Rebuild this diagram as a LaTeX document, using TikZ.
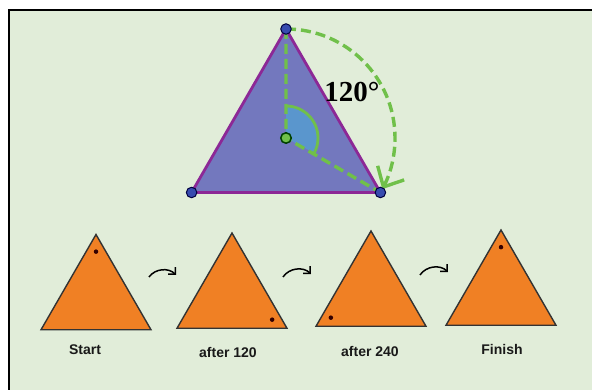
\documentclass[tikz,border=0pt]{standalone}
\usepackage{fontspec}
\setmainfont{Liberation Sans}
\newfontfamily\degfont{Liberation Serif}
\usetikzlibrary{shapes.geometric,arrows.meta,calc}
\definecolor{bgGreen}{RGB}{225,237,217}
\definecolor{triBlue}{RGB}{115,120,190}
\definecolor{edgePurple}{RGB}{140,40,150}
\definecolor{dashGreen}{RGB}{112,192,74}
\definecolor{dotBlue}{RGB}{55,75,175}
\definecolor{wedgeBlue}{RGB}{90,150,205}
\definecolor{tileOrange}{RGB}{240,128,36}
\begin{document}
\begin{tikzpicture}[x=1pt,y=-1pt,
tile/.style={regular polygon,regular polygon sides=3,minimum size=127pt,inner sep=0pt,outer sep=0pt,fill=tileOrange,draw=black!80,line width=1.4pt},
bigtri/.style={regular polygon,regular polygon sides=3,minimum size=218pt,inner sep=0pt,outer sep=0pt,fill=triBlue,draw=edgePurple,line width=2.8pt},
vertex/.style={circle,fill=dotBlue,draw=blue!25!black,line width=1pt,inner sep=0pt,minimum size=10.5pt},
pivot/.style={circle,fill=dashGreen,draw=green!25!black,line width=1.5pt,inner sep=0pt,minimum size=10.5pt},
spot/.style={circle,fill=black!80!red,inner sep=0pt,minimum size=4.5pt},
guide/.style={draw=dashGreen,line width=3.4pt,dash pattern=on 10pt off 5pt},
turn/.style={draw=black,line width=1.5pt,-{Straight Barb[length=5pt,width=10pt]}},
caption/.style={font=\bfseries\fontsize{14}{16}\selectfont,text=black!90}
]
\useasboundingbox (0,0) rectangle (592,390);
\fill[white] (0,0) rectangle (592,390);
\fill[bgGreen] (8,9) rectangle (592,390);
\draw[line width=2.2pt] (9,390) -- (9,10) -- (592,10);
\node[bigtri] (big) at (286,138) {};
\fill[wedgeBlue] (big.center) -- ([shift={(90:32pt)}]big.center) arc[start angle=90,end angle=-28,radius=32pt] -- cycle;
\draw[guide] (big.corner 1) -- (big.center) -- (big.corner 3);
\draw[guide,-{Straight Barb[length=16pt,width=30pt]}] (big.corner 1) arc[start angle=90,end angle=-28,radius=109pt];
\draw[dashGreen,line width=2.8pt] ([shift={(90:32pt)}]big.center) arc[start angle=90,end angle=-28,radius=32pt];
\node[vertex] (v1) at (big.corner 1) {};
\node[vertex] (v2) at (big.corner 2) {};
\node[vertex] (v3) at (big.corner 3) {};
\node[pivot] (o) at (big.center) {};
\node[font=\degfont\bfseries\fontsize{29}{31}\selectfont] (ang) at (352,92) {120°};
\node[tile] (start) at (96,298) {};
\node[tile] (turnA) at (232,296.5) {};
\node[tile] (turnB) at (371,294.5) {};
\node[tile] (finish) at (501,293.5) {};
\node[spot] (d1) at ($(start.corner 1)!0.27!(start.center)$) {};
\node[spot] (d2) at ($(turnA.corner 3)!0.27!(turnA.center)$) {};
\node[spot] (d3) at ($(turnB.corner 2)!0.27!(turnB.center)$) {};
\node[spot] (d4) at ($(finish.corner 1)!0.27!(finish.center)$) {};
\node[caption] (cstart) at (85,350) {Start};
\node[caption] (cA) at (228,352) {after 120};
\node[caption] (cB) at (370,351) {after 240};
\node[caption] (cfinish) at (502,349) {Finish};
\coordinate (a1) at (149,277);
\coordinate (b1) at (176,275);
\coordinate (a2) at (283,277);
\coordinate (b2) at (311,274);
\coordinate (a3) at (420,275);
\coordinate (b3) at (448,272);
\draw[turn] (a1) to[bend left=50] (b1);
\draw[turn] (a2) to[bend left=50] (b2);
\draw[turn] (a3) to[bend left=50] (b3);
\end{tikzpicture}
\end{document}
